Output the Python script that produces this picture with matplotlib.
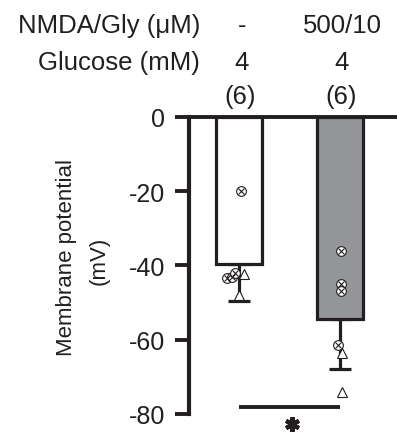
import matplotlib
matplotlib.use("Agg")
import matplotlib.pyplot as plt
import matplotlib.transforms as mtransforms
import numpy as np

plt.rcParams['font.family'] = ['Liberation Sans', 'DejaVu Sans']

# ---- data ----
groups = [1, 2]
nmda_labels = ["-", "500/10"]
glucose_labels = ["4", "4"]
n_labels = ["(6)", "(6)"]
means = [-39.6, -54.3]
sems = [9.9, 13.6]
bar_colors = ["white", "#939598"]

# individual points: (group, x-jitter, value, marker type)
pt_group = [1, 1, 1, 1, 1, 1, 2, 2, 2, 2, 2, 2]
pt_jitter = [0.02, -0.12, -0.07, -0.04, 0.05, 0.0, 0.015, 0.015, 0.015, -0.015, 0.025, 0.025]
pt_value = [-19.9, -43.4, -43.0, -42.0, -42.3, -48.0, -36.0, -45.0, -47.0, -61.5, -63.5, -74.0]
pt_kind = ["x", "x", "x", "x", "t", "t", "x", "x", "x", "x", "t", "t"]

yticks = [0, -20, -40, -60, -80]
sig_pair = [1, 2]
sig_y = -78.0

INK = "#231f20"
FS = 18.5

# ---- figure ----
fig = plt.figure(figsize=(3.97, 4.35), dpi=100)
ax = fig.add_axes([0.476, 0.046, 0.524, 0.683])
ax.set_xlim(0.5, 2.57)
ax.set_ylim(-80, 0)

lw = 2.3
ax.bar(groups, means, width=0.46, color=bar_colors, edgecolor=INK,
       linewidth=lw, zorder=2)
for g, m, s in zip(groups, means, sems):
    ax.errorbar(g, m, yerr=[[s], [0]], fmt="none", ecolor=INK,
                elinewidth=lw, capsize=8, capthick=lw, zorder=1)

ax.axhline(0, color=INK, lw=2.8, zorder=4, clip_on=False)

for g, j, v, k in zip(pt_group, pt_jitter, pt_value, pt_kind):
    x = g + j
    if k == "x":
        ax.plot(x, v, marker="o", ms=7, mfc="white", mec=INK, mew=0.8,
                zorder=5, clip_on=False)
        ax.plot(x, v, marker="x", ms=4.6, mec=INK, mew=0.8,
                zorder=6, clip_on=False)
    else:
        ax.plot(x, v, marker="^", ms=7.5, mfc="white", mec=INK, mew=0.8,
                zorder=5, clip_on=False)

# significance
ax.plot(sig_pair, [sig_y, sig_y], color=INK, lw=2.8, clip_on=False,
        solid_capstyle="butt")
ax.plot(np.mean(sig_pair) + 0.03, -82.7, marker=(6, 2, 0), ms=10.5,
        mec=INK, mew=3.0, clip_on=False)

for sp in ["top", "right", "bottom"]:
    ax.spines[sp].set_visible(False)
ax.spines["left"].set_linewidth(3.0)
ax.spines["left"].set_color(INK)
ax.set_xticks([])
ax.set_yticks(yticks)
ax.set_yticklabels([str(t) for t in yticks])
ax.tick_params(axis="y", direction="out", length=10, width=2.8,
               color=INK, labelsize=18, pad=7, labelcolor=INK)

# y label
fig.text(66.5 / 397, 1 - 258 / 435, "Membrane potential", rotation=90,
         ha="center", va="center", fontsize=16, color=INK)
fig.text(99 / 397, 1 - 261 / 435, "(mV)", rotation=90,
         ha="center", va="center", fontsize=16, color=INK)

# header
trans = mtransforms.blended_transform_factory(ax.transData, fig.transFigure)
fig.text(200 / 397, 1 - 33 / 435, "NMDA/Gly (μM)", ha="right", va="baseline",
         fontsize=FS, color=INK)
fig.text(200 / 397, 1 - 70 / 435, "Glucose (mM)", ha="right", va="baseline",
         fontsize=FS, color=INK)
for g, a, b, c in zip(groups, nmda_labels, glucose_labels, n_labels):
    ax.text(g + 0.03, 1 - 33 / 435, a, transform=trans, ha="center",
            va="baseline", fontsize=FS, color=INK)
    ax.text(g + 0.02, 1 - 70 / 435, b, transform=trans, ha="center",
            va="baseline", fontsize=FS, color=INK)
    ax.text(g + 0.01, 1 - 104 / 435, c, transform=trans, ha="center",
            va="baseline", fontsize=FS, color=INK)

fig.savefig("out.png", dpi=100)
